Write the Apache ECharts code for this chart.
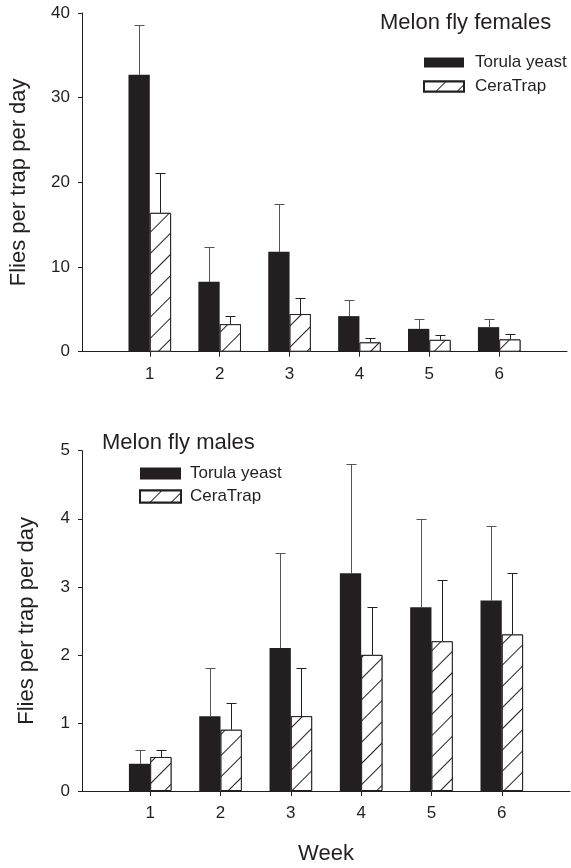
<!DOCTYPE html>
<html><head><meta charset="utf-8">
<script src="https://cdn.jsdelivr.net/npm/echarts@6/dist/echarts.min.js"></script>
<style>html,body{margin:0;padding:0;background:#fff}#c{width:571px;height:868px}</style>
</head><body><div id="c"></div>
<script>
const weeks = [1, 2, 3, 4, 5, 6];
const femTorula = [32.7, 8.25, 11.8, 4.2, 2.7, 2.9];
const femTorulaErr = [38.6, 12.35, 17.4, 6.1, 3.9, 3.85];
const femCera = [16.4, 3.25, 4.45, 1.1, 1.4, 1.45];
const femCeraErr = [21.1, 4.25, 6.3, 1.6, 1.95, 2.05];
const maleTorula = [0.4, 1.1, 2.1, 3.2, 2.7, 2.8];
const maleTorulaErr = [0.6, 1.8, 3.5, 4.8, 4.0, 3.9];
const maleCera = [0.5, 0.9, 1.1, 2.0, 2.2, 2.3];
const maleCeraErr = [0.6, 1.3, 1.8, 2.7, 3.1, 3.2];
const seriesNames = ['Torula yeast', 'CeraTrap'];
const titles = ['Melon fly females', 'Melon fly males'];
const yName = 'Flies per trap per day';
const xName = 'Week';

const FONT = 'Liberation Sans, Arial, sans-serif';
const INK = '#231f20';
const BW = 21.3;

const hatch = {
  symbol: 'rect', symbolSize: 1, color: INK, backgroundColor: '#fff',
  dashArrayX: [1, 0], dashArrayY: [1, 14], rotation: -Math.PI / 4
};

function xAxis(gi, withName) {
  return {
    type: 'value', gridIndex: gi, min: 0.03, max: 6.97,
    splitLine: { show: false },
    axisLine: { lineStyle: { color: INK, width: 1 } },
    axisTick: { show: true, length: 5, customValues: weeks, lineStyle: { color: INK } },
    axisLabel: { customValues: weeks, margin: 14, fontSize: 17, color: INK, fontFamily: FONT },
    name: withName ? xName : '', nameLocation: 'middle', nameGap: 52,
    nameTextStyle: { fontSize: 22, color: INK, fontFamily: FONT }
  };
}
function yAxis(gi, max, gap) {
  return {
    type: 'value', gridIndex: gi, min: 0, max: max, interval: max / 5 === 1 ? 1 : 10,
    splitLine: { show: false },
    axisLine: { show: true, lineStyle: { color: INK, width: 1 } },
    axisTick: { show: true, length: 4, lineStyle: { color: INK } },
    axisLabel: { margin: 12, fontSize: 17, color: INK, fontFamily: FONT },
    name: yName, nameLocation: 'middle', nameGap: gap, nameRotate: 90,
    nameTextStyle: { fontSize: 22, color: INK, fontFamily: FONT }
  };
}
function barSeries(name, gi, vals, hatched) {
  return {
    name: name, type: 'bar', xAxisIndex: gi, yAxisIndex: gi, z: 3,
    barWidth: BW, barGap: '0%',
    data: weeks.map((w, i) => [w, vals[i]]),
    itemStyle: hatched
      ? { color: '#fff', borderColor: INK, borderWidth: 1, decal: hatch }
      : { color: INK, borderColor: INK, borderWidth: 0 },
    emphasis: { disabled: true }
  };
}
function errSeries(gi, vals, errs, shift, color) {
  return {
    type: 'custom', xAxisIndex: gi, yAxisIndex: gi, silent: true, z: 2,
    data: weeks.map((w, i) => [w, vals[i], errs[i]]),
    renderItem(params, api) {
      const x = api.value(0);
      const b = api.coord([x, api.value(1)]);
      const t = api.coord([x, api.value(2)]);
      const cx = Math.round(b[0] + shift) + 0.5;
      const ty = Math.round(t[1]) + 0.5;
      return { type: 'group', children: [
        { type: 'line', shape: { x1: cx, y1: b[1], x2: cx, y2: ty }, style: { stroke: color, lineWidth: 1 } },
        { type: 'line', shape: { x1: cx - 5, y1: ty, x2: cx + 5, y2: ty }, style: { stroke: color, lineWidth: 1 } }
      ] };
    }
  };
}

const chart = echarts.init(document.getElementById('c'));
chart.setOption({
  backgroundColor: '#fff',
  animation: false,
  title: [
    { text: titles[0], left: 380, top: 12, padding: 0, textStyle: { fontSize: 22, fontWeight: 'normal', color: INK, fontFamily: FONT } },
    { text: titles[1], left: 102, top: 432, padding: 0, textStyle: { fontSize: 22, fontWeight: 'normal', color: INK, fontFamily: FONT } }
  ],
  legend: [
    { data: seriesNames, orient: 'vertical', left: 423, top: 54, padding: 0, itemGap: 7,
      itemWidth: 40, itemHeight: 10, icon: 'rect', selectedMode: false,
      textStyle: { fontSize: 17, color: INK, fontFamily: FONT, padding: [0, 0, 0, 6] } },
    { data: seriesNames, orient: 'vertical', left: 139, top: 465, padding: 0, itemGap: 6,
      itemWidth: 41, itemHeight: 12, icon: 'rect', selectedMode: false,
      textStyle: { fontSize: 17, color: INK, fontFamily: FONT, padding: [0, 0, 0, 4] } }
  ],
  grid: [
    { left: 81, right: 4, top: 13, height: 338.7 },
    { left: 82, right: 1, top: 450.7, height: 340.3 }
  ],
  xAxis: [xAxis(0, false), xAxis(1, true)],
  yAxis: [yAxis(0, 40, 52), yAxis(1, 5, 44)],
  series: [
    barSeries(seriesNames[0], 0, femTorula, false),
    barSeries(seriesNames[1], 0, femCera, true),
    errSeries(0, femTorula, femTorulaErr, -BW / 2, '#555'),
    errSeries(0, femCera, femCeraErr, BW / 2, INK),
    barSeries(seriesNames[0], 1, maleTorula, false),
    barSeries(seriesNames[1], 1, maleCera, true),
    errSeries(1, maleTorula, maleTorulaErr, -BW / 2, '#555'),
    errSeries(1, maleCera, maleCeraErr, BW / 2, INK)
  ]
});
</script>
</body></html>
